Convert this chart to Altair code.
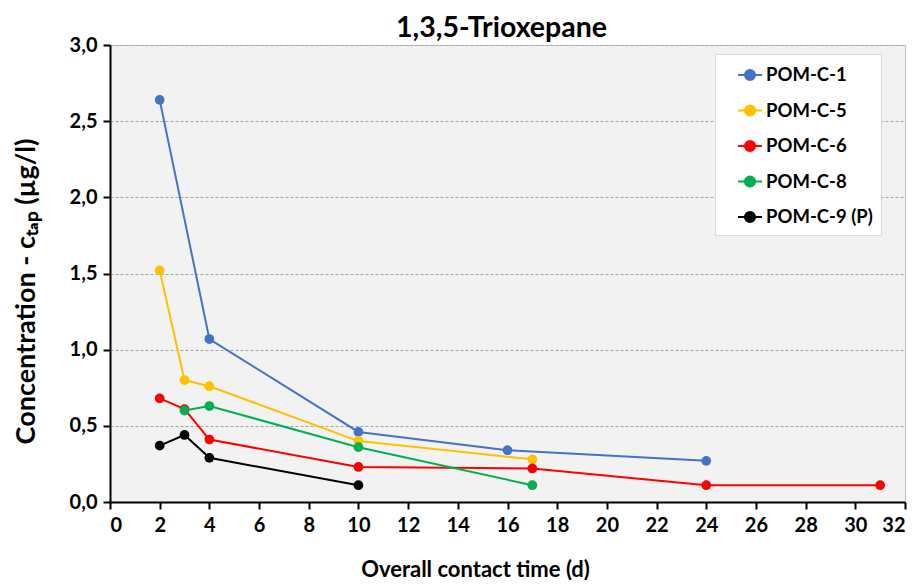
import altair as alt
import pandas as pd

series = ["POM-C-1", "POM-C-5", "POM-C-6", "POM-C-8", "POM-C-9 (P)"]
colors = ["#4472C4", "#FFC000", "#FF0000", "#00B050", "#000000"]

days_c1 = [2, 4, 10, 16, 24]
conc_c1 = [2.64, 1.07, 0.46, 0.34, 0.27]
days_c5 = [2, 3, 4, 10, 17]
conc_c5 = [1.52, 0.80, 0.76, 0.40, 0.28]
days_c6 = [2, 3, 4, 10, 17, 24, 31]
conc_c6 = [0.68, 0.61, 0.41, 0.23, 0.22, 0.11, 0.11]
days_c8 = [3, 4, 10, 17]
conc_c8 = [0.60, 0.63, 0.36, 0.11]
days_c9 = [2, 3, 4, 10]
conc_c9 = [0.37, 0.44, 0.29, 0.11]

x_ticks = list(range(0, 33, 2))
y_ticks = [0, 0.5, 1, 1.5, 2, 2.5, 3]

rows = []
for name, d, c in zip(series,
                      [days_c1, days_c5, days_c6, days_c8, days_c9],
                      [conc_c1, conc_c5, conc_c6, conc_c8, conc_c9]):
    for i, (x, y) in enumerate(zip(d, c)):
        rows.append({"series": name, "day": x, "conc": y, "order": i})
df = pd.DataFrame(rows)

FONT = "Lato"

color = alt.Color(
    "series:N",
    scale=alt.Scale(domain=series, range=colors),
    sort=series,
    legend=alt.Legend(
        title=None,
        orient="none",
        legendX=605,
        legendY=9,
        fillColor="white",
        strokeColor="#d9d9d9",
        padding=8,
        labelFont=FONT,
        labelFontSize=18.5,
        labelFontWeight="bold",
        labelColor="black",
        symbolType="M-1,0H1M-0.42,0A0.42,0.42 0 1,1 0.42,0A0.42,0.42 0 1,1 -0.42,0Z",
        symbolSize=576,
        symbolStrokeWidth=2,
        symbolOffset=14,
        rowPadding=12.5,
        labelOffset=3,
    ),
)

x = alt.X(
    "day:Q",
    scale=alt.Scale(domain=[0, 32], nice=False),
    axis=alt.Axis(
        values=x_ticks,
        title="Overall contact time (d)",
        grid=False,
        titlePadding=24,
        titleFontSize=22,
        titleX=365,
    ),
)
y = alt.Y(
    "conc:Q",
    scale=alt.Scale(domain=[0, 3], nice=False),
    axis=alt.Axis(
        values=y_ticks,
        title="Concentration - cₜₐₚ (µg/l)",
        grid=True,
        gridDash=[3, 2],
        gridColor="#a6a6a6",
        gridWidth=1,
        labelExpr="replace(format(datum.value, '.1f'), '.', ',')",
        titlePadding=29,
        titleFontSize=27,
        titleY=246,
    ),
)

base = alt.Chart(df)
lines = base.mark_line(strokeWidth=2).encode(x=x, y=y, color=color, order="order:Q")
points = base.mark_point(filled=True, size=95, opacity=1).encode(
    x=x, y=y, color=alt.Color("series:N", scale=alt.Scale(domain=series, range=colors), legend=None)
)

chart = (
    alt.layer(lines, points)
    .properties(
        width=795,
        height=457,
        title=alt.TitleParams("1,3,5-Trioxepane", font=FONT, fontSize=28.5, fontWeight="bold", color="black", offset=-7, dx=-6),
        padding={"left": 102, "top": 37, "right": 2, "bottom": 78},
        autosize=alt.AutoSizeParams(type="none"),
    )
    .configure_view(fill="#f2f2f2", stroke="#bfbfbf", strokeWidth=1)
    .configure_axis(
        domainColor="black",
        domainWidth=2,
        tickColor="black",
        tickWidth=2,
        tickSize=7,
        labelFont=FONT,
        labelFontSize=20,
        labelFontWeight="bold",
        labelColor="black",
        titleFont=FONT,
        titleFontWeight="bold",
        titleColor="black",
        labelPadding=6,
    )
)

chart.save("out.html", embed_options={"renderer": "svg", "actions": False})
